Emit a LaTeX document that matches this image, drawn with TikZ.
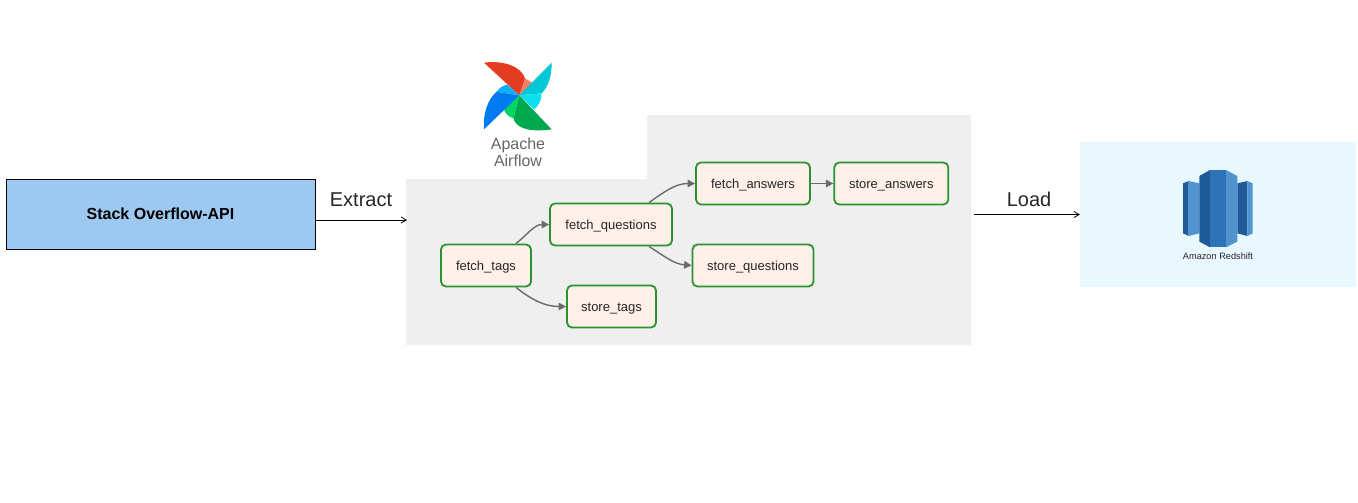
\documentclass[tikz,border=0pt]{standalone}
\usepackage{fontspec}
\setmainfont{Liberation Sans}
\usetikzlibrary{arrows.meta,positioning}
\definecolor{apiblue}{HTML}{9DC9F0}
\definecolor{panelgray}{HTML}{EFEFEF}
\definecolor{dagfill}{HTML}{FFF0EA}
\definecolor{daggreen}{HTML}{2A932F}
\definecolor{dagarrow}{HTML}{6B6B6B}
\definecolor{redshiftbg}{HTML}{E9F7FE}
\definecolor{rsdark}{HTML}{205B99}
\definecolor{rsmid}{HTML}{2E73B8}
\definecolor{rslight}{HTML}{5294CF}
\definecolor{vanered}{HTML}{E43C20}
\definecolor{vanesalmon}{HTML}{F77C64}
\definecolor{vaneteal}{HTML}{00C8D6}
\definecolor{vanecyan}{HTML}{0CE0F0}
\definecolor{vanegreen}{HTML}{00A84E}
\definecolor{vanelime}{HTML}{00D660}
\definecolor{vaneblue}{HTML}{007AF0}
\definecolor{vanesky}{HTML}{0CB0FA}
\tikzset{
	task/.style = {draw=daggreen, fill=dagfill, line width=1.8pt, rounded corners=5pt, minimum height=42pt, inner sep=0pt, text height=9.5pt, text depth=0pt, text=black!85, font=\fontsize{13}{15}\selectfont},
	dagedge/.style = {draw=dagarrow, line width=1.4pt, -{Triangle[length=7.5pt,width=7.5pt]}},
	flowarrow/.style = {draw, line width=0.8pt, -{Straight Barb[length=5pt,width=6pt]}},
	flowlabel/.style = {font=\fontsize{20}{24}\selectfont, text=black!85},
}
\begin{document}
\begin{tikzpicture}[x=1pt,y=-1pt]
        \useasboundingbox (0,0) rectangle (1358,503);
        % backgrounds
        \path [fill=panelgray] (406,179) -- (647,179) -- (647,115) -- (971,115) -- (971,345) -- (406,345) -- cycle;
        \node (redshift) at (1218,214.5) [fill=redshiftbg, minimum width=276pt, minimum height=145pt, inner sep=0pt] {};
        \node (api) at (160.5,214) [draw, fill=apiblue, line width=0.8pt, minimum width=309pt, minimum height=70pt, font=\fontsize{16}{18}\selectfont\bfseries] {Stack Overflow-API};
        % airflow tasks
        \node (fetchtags) at (486,265.5) [task, minimum width=90pt] {fetch\_tags};
        \node (fetchquestions) at (611,224.5) [task, minimum width=122pt] {fetch\_questions};
        \node (fetchanswers) at (753,183.5) [task, minimum width=114pt] {fetch\_answers};
        \node (storeanswers) [task, minimum width=114pt, right=22.5pt of fetchanswers] {store\_answers};
        \node (storequestions) at (753,265.5) [task, minimum width=121pt] {store\_questions};
        \node (storetags) at (611.5,306.5) [task, minimum width=89pt] {store\_tags};
        \path [dagedge] ([xshift=-16pt]fetchtags.north east) to [out=38,in=180] (fetchquestions.west);
        \path [dagedge] ([xshift=-16pt]fetchtags.south east) to [out=-38,in=180] (storetags.west);
        \path [dagedge] ([xshift=-24pt]fetchquestions.north east) to [out=35,in=180] (fetchanswers.west);
        \path [dagedge] ([xshift=-24pt]fetchquestions.south east) to [out=-32,in=175] (storequestions.west);
        \path [dagedge] (fetchanswers) -- (storeanswers);
        % extract and load
        \coordinate (extractend) at (407,220);
        \coordinate (loadstart) at (974,214.5);
        \node (extractlabel) at (361,199.5) [flowlabel] {Extract};
        \node (loadlabel) at (1029,199.5) [flowlabel] {Load};
        \path [flowarrow] (api.east |- extractend) -- (extractend);
        \path [flowarrow] (loadstart) -- (redshift.west);
        % airflow logo
        \begin{scope}[shift={(470pt,-50pt)},x=0.3333pt,y=-0.3333pt]
            \fill [vanered] (42,38) .. controls (100,30) and (155,50) .. (165,85) -- (148,136) -- cycle;
            \fill [vanesalmon] (165,85) -- (190,100) -- (148,136) -- cycle;
            \fill [vaneteal] (245,38) .. controls (245,80) and (235,110) .. (215,130) -- (148,136) -- cycle;
            \fill [vanecyan] (215,130) .. controls (215,150) and (205,170) .. (192,178) -- (148,136) -- cycle;
            \fill [vanegreen] (245,238) .. controls (190,246) and (140,240) .. (130,205) -- (148,136) -- cycle;
            \fill [vanelime] (130,205) .. controls (115,200) and (105,190) .. (102,178) -- (148,136) -- cycle;
            \fill [vaneblue] (42,238) .. controls (38,190) and (55,145) .. (80,125) -- (148,136) -- cycle;
            \fill [vanesky] (80,125) .. controls (90,110) and (105,105) .. (112,104) -- (148,136) -- cycle;
        \end{scope}
        \node (airflowname) at (518,152.5) [align=center, text=black!60, font=\fontsize{16}{17}\selectfont] {Apache \\ Airflow};
        % redshift logo
        \begin{scope}[shift={(1150pt,-150pt)},x=0.3333pt,y=-0.3333pt]
            \fill [rsdark] (99,100) -- (116,93) -- (116,258) -- (99,250) -- cycle;
            \fill [rslight] (116,93) -- (148,100) -- (148,250) -- (116,258) -- cycle;
            \fill [rsdark] (262,100) -- (292,93) -- (292,258) -- (262,250) -- cycle;
            \fill [rslight] (292,93) -- (308,100) -- (308,250) -- (292,258) -- cycle;
            \fill [rsdark] (148,78) -- (180,60) -- (180,292) -- (148,275) -- cycle;
            \fill [rsmid] (180,60) -- (228,60) -- (228,292) -- (180,292) -- cycle;
            \fill [rslight] (228,60) -- (262,78) -- (262,275) -- (228,292) -- cycle;
        \end{scope}
        \node (redshiftname) at (1218,256.5) [text=black!85, font=\fontsize{9.2}{11}\selectfont] {Amazon Redshift};
    \end{tikzpicture}
\end{document}
